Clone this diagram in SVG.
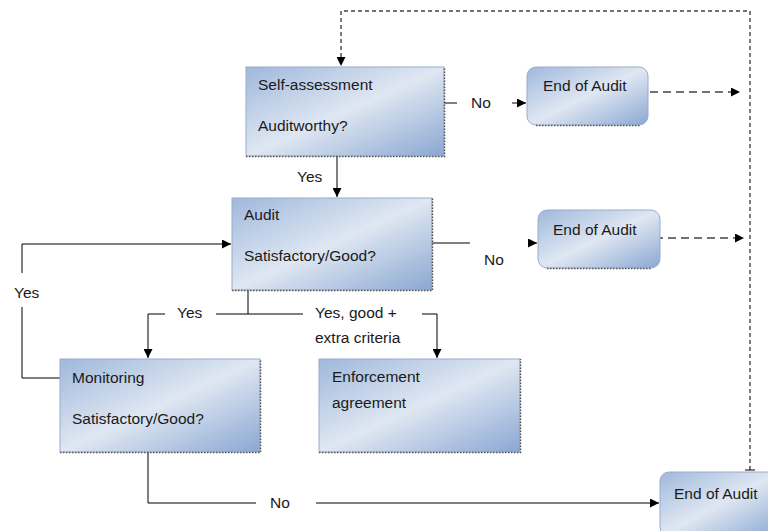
<svg xmlns="http://www.w3.org/2000/svg" width="768" height="531" viewBox="0 0 768 531">
<defs>
<linearGradient id="g" x1="0" y1="0" x2="1" y2="1">
<stop offset="0" stop-color="#9fb8dc"/>
<stop offset="0.5" stop-color="#dfe7f2"/>
<stop offset="1" stop-color="#8aa7d2"/>
</linearGradient>
<marker id="a" viewBox="0 0 10 10" refX="10" refY="5" markerWidth="9" markerHeight="9" markerUnits="userSpaceOnUse" orient="auto">
<path d="M0,0 L10,5 L0,10 z" fill="#000"/>
</marker>
</defs>
<style>
.box{fill:url(#g);stroke:#9aaccc;stroke-width:1}
.sh{fill:none;stroke:#555;stroke-width:1.5;stroke-dasharray:1.5 1.5}
.t{font-family:"Liberation Sans",Arial,sans-serif;font-size:15.5px;fill:#1a1a1a}
.c{fill:none;stroke:#000;stroke-width:1}
.d{fill:none;stroke:#444;stroke-width:1.4;stroke-dasharray:4 3}
.dl{fill:none;stroke:#444;stroke-width:1.5;stroke-dasharray:8 5}
</style>
<g id="connectors">
<path class="d" d="M750,470 V11 H341 V66" marker-end="url(#a)"/>
<path class="c" d="M745,470 H755"/>
<path class="dl" d="M650,92 H740" marker-end="url(#a)"/>
<path class="dl" d="M655,238 H744" marker-end="url(#a)"/>
<path class="c" d="M444,103 H457"/>
<path class="c" d="M512,103 H526" marker-end="url(#a)"/>
<path class="c" d="M337,156 V197" marker-end="url(#a)"/>
<path class="c" d="M432,243 H470"/>
<path class="c" d="M528,243 H537" marker-end="url(#a)"/>
<path class="c" d="M60,378 H22 V307"/>
<path class="c" d="M22,273 V244 H231" marker-end="url(#a)"/>
<path class="c" d="M248,290 V314"/>
<path class="c" d="M165,314 H148 V358" marker-end="url(#a)"/>
<path class="c" d="M216,314 H303"/>
<path class="c" d="M422,314 H437 V358" marker-end="url(#a)"/>
<path class="c" d="M148,452 V503 H256"/>
<path class="c" d="M316,503 H659" marker-end="url(#a)"/>
<text class="t" x="471" y="108">No</text>
<text class="t" x="297" y="182">Yes</text>
<text class="t" x="484" y="265">No</text>
<text class="t" x="14" y="298">Yes</text>
<text class="t" x="177" y="318">Yes</text>
<text class="t" x="315" y="318">Yes, good +</text>
<text class="t" x="315" y="343">extra criteria</text>
<text class="t" x="270" y="508">No</text>
</g>
<g id="self-assessment">
<rect class="box" x="246" y="67" width="198" height="89"/>
<path class="sh" d="M246,156.5 H444.5 V67"/>
<text class="t" x="258" y="90">Self-assessment</text>
<text class="t" x="258" y="131">Auditworthy?</text>
</g>
<g id="end1">
<rect class="box" x="527" y="67" width="121" height="58" rx="9"/>
<path class="sh" d="M536,125.5 H640"/>
<text class="t" x="543" y="91">End of Audit</text>
</g>
<g id="audit">
<rect class="box" x="232" y="198" width="200" height="92"/>
<path class="sh" d="M232,290.5 H432.5 V198"/>
<text class="t" x="244" y="220">Audit</text>
<text class="t" x="244" y="261">Satisfactory/Good?</text>
</g>
<g id="end2">
<rect class="box" x="538" y="210" width="122" height="58" rx="9"/>
<path class="sh" d="M547,268.5 H652"/>
<text class="t" x="553" y="235">End of Audit</text>
</g>
<g id="monitoring">
<rect class="box" x="60" y="359" width="200" height="93"/>
<path class="sh" d="M60,452.5 H260.5 V359"/>
<text class="t" x="72" y="383">Monitoring</text>
<text class="t" x="72" y="424">Satisfactory/Good?</text>
</g>
<g id="enforcement">
<rect class="box" x="319" y="359" width="201" height="93"/>
<path class="sh" d="M319,452.5 H520.5 V359"/>
<text class="t" x="332" y="382">Enforcement</text>
<text class="t" x="332" y="408">agreement</text>
</g>
<g id="end3">
<rect class="box" x="660" y="472" width="120" height="64" rx="9"/>
<text class="t" x="674" y="499">End of Audit</text>
</g>
</svg>
